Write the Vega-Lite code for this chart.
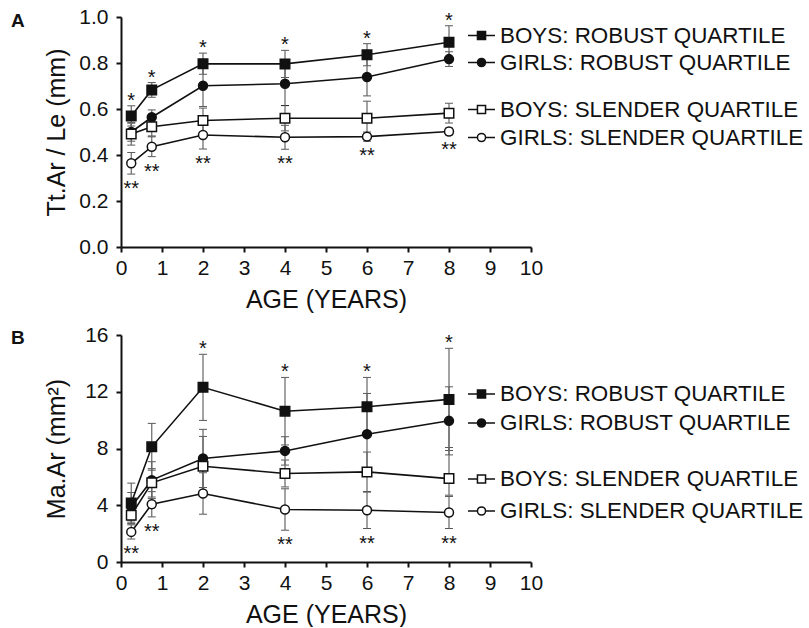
{
  "$schema": "https://vega.github.io/schema/vega-lite/v6.json",
  "background": "white",
  "padding": {"left": 11, "top": 6, "right": 0, "bottom": 0},
  "spacing": 12,
  "config": {
    "view": {"stroke": null},
    "font": "Liberation Sans",
    "axis": {
      "grid": false,
      "domainColor": "#111",
      "domainWidth": 2,
      "tickColor": "#111",
      "tickWidth": 2,
      "tickSize": 5,
      "labelFont": "Liberation Sans",
      "labelFontSize": 21,
      "labelColor": "#111",
      "titleFont": "Liberation Sans",
      "titleFontSize": 25,
      "titleFontWeight": "normal",
      "titleColor": "#111"
    },
    "axisX": {"labelPadding": 5, "titlePadding": 9, "labelFlush": false},
    "axisY": {"minExtent": 40, "maxExtent": 40, "titlePadding": 12, "labelPadding": 8},
    "legend": {
      "padding": 0,
      "labelFont": "Liberation Sans",
      "labelFontSize": 22.4,
      "labelColor": "#111",
      "labelOffset": 4,
      "symbolSize": 729,
      "symbolStrokeColor": "#111",
      "symbolStrokeWidth": 1.5,
      "symbolOpacity": 1,
      "labelLimit": 400
    },
    "title": {"font": "Liberation Sans", "fontSize": 19, "fontWeight": "bold", "color": "#111", "anchor": "start", "frame": "group"}
  },
  "datasets": {
    "A": [
      {"series": "BOYS: ROBUST QUARTILE", "age": 0.25, "mean": 0.570, "lo": 0.526, "hi": 0.614, "sig": "*"},
      {"series": "BOYS: ROBUST QUARTILE", "age": 0.75, "mean": 0.683, "lo": 0.651, "hi": 0.715, "sig": "*"},
      {"series": "BOYS: ROBUST QUARTILE", "age": 2, "mean": 0.797, "lo": 0.751, "hi": 0.843, "sig": "*"},
      {"series": "BOYS: ROBUST QUARTILE", "age": 4, "mean": 0.796, "lo": 0.737, "hi": 0.855, "sig": "*"},
      {"series": "BOYS: ROBUST QUARTILE", "age": 6, "mean": 0.836, "lo": 0.788, "hi": 0.884, "sig": "*"},
      {"series": "BOYS: ROBUST QUARTILE", "age": 8, "mean": 0.890, "lo": 0.818, "hi": 0.962, "sig": "*"},
      {"series": "GIRLS: ROBUST QUARTILE", "age": 0.25, "mean": 0.500, "lo": 0.460, "hi": 0.540, "sig": ""},
      {"series": "GIRLS: ROBUST QUARTILE", "age": 0.75, "mean": 0.564, "lo": 0.532, "hi": 0.596, "sig": ""},
      {"series": "GIRLS: ROBUST QUARTILE", "age": 2, "mean": 0.701, "lo": 0.611, "hi": 0.791, "sig": ""},
      {"series": "GIRLS: ROBUST QUARTILE", "age": 4, "mean": 0.710, "lo": 0.615, "hi": 0.805, "sig": ""},
      {"series": "GIRLS: ROBUST QUARTILE", "age": 6, "mean": 0.739, "lo": 0.657, "hi": 0.821, "sig": ""},
      {"series": "GIRLS: ROBUST QUARTILE", "age": 8, "mean": 0.817, "lo": 0.785, "hi": 0.849, "sig": ""},
      {"series": "BOYS: SLENDER QUARTILE", "age": 0.25, "mean": 0.491, "lo": 0.443, "hi": 0.539, "sig": ""},
      {"series": "BOYS: SLENDER QUARTILE", "age": 0.75, "mean": 0.523, "lo": 0.483, "hi": 0.563, "sig": ""},
      {"series": "BOYS: SLENDER QUARTILE", "age": 2, "mean": 0.550, "lo": 0.496, "hi": 0.604, "sig": ""},
      {"series": "BOYS: SLENDER QUARTILE", "age": 4, "mean": 0.560, "lo": 0.505, "hi": 0.615, "sig": ""},
      {"series": "BOYS: SLENDER QUARTILE", "age": 6, "mean": 0.560, "lo": 0.486, "hi": 0.634, "sig": ""},
      {"series": "BOYS: SLENDER QUARTILE", "age": 8, "mean": 0.582, "lo": 0.539, "hi": 0.625, "sig": ""},
      {"series": "GIRLS: SLENDER QUARTILE", "age": 0.25, "mean": 0.364, "lo": 0.317, "hi": 0.411, "sig": "**"},
      {"series": "GIRLS: SLENDER QUARTILE", "age": 0.75, "mean": 0.436, "lo": 0.393, "hi": 0.479, "sig": "**"},
      {"series": "GIRLS: SLENDER QUARTILE", "age": 2, "mean": 0.487, "lo": 0.426, "hi": 0.548, "sig": "**"},
      {"series": "GIRLS: SLENDER QUARTILE", "age": 4, "mean": 0.477, "lo": 0.425, "hi": 0.529, "sig": "**"},
      {"series": "GIRLS: SLENDER QUARTILE", "age": 6, "mean": 0.480, "lo": 0.460, "hi": 0.500, "sig": "**"},
      {"series": "GIRLS: SLENDER QUARTILE", "age": 8, "mean": 0.502, "lo": 0.487, "hi": 0.517, "sig": "**"}
    ],
    "B": [
      {"series": "BOYS: ROBUST QUARTILE", "age": 0.25, "mean": 4.16, "lo": 2.76, "hi": 5.56, "sig": ""},
      {"series": "BOYS: ROBUST QUARTILE", "age": 0.75, "mean": 8.12, "lo": 6.47, "hi": 9.77, "sig": ""},
      {"series": "BOYS: ROBUST QUARTILE", "age": 2, "mean": 12.31, "lo": 9.98, "hi": 14.64, "sig": "*"},
      {"series": "BOYS: ROBUST QUARTILE", "age": 4, "mean": 10.63, "lo": 8.25, "hi": 13.01, "sig": "*"},
      {"series": "BOYS: ROBUST QUARTILE", "age": 6, "mean": 10.94, "lo": 8.87, "hi": 13.01, "sig": "*"},
      {"series": "BOYS: ROBUST QUARTILE", "age": 8, "mean": 11.46, "lo": 7.86, "hi": 15.06, "sig": "*"},
      {"series": "GIRLS: ROBUST QUARTILE", "age": 0.25, "mean": 3.90, "lo": 2.90, "hi": 4.90, "sig": ""},
      {"series": "GIRLS: ROBUST QUARTILE", "age": 0.75, "mean": 5.77, "lo": 4.47, "hi": 7.07, "sig": ""},
      {"series": "GIRLS: ROBUST QUARTILE", "age": 2, "mean": 7.30, "lo": 5.25, "hi": 9.35, "sig": ""},
      {"series": "GIRLS: ROBUST QUARTILE", "age": 4, "mean": 7.83, "lo": 6.83, "hi": 8.83, "sig": ""},
      {"series": "GIRLS: ROBUST QUARTILE", "age": 6, "mean": 9.01, "lo": 6.14, "hi": 11.88, "sig": ""},
      {"series": "GIRLS: ROBUST QUARTILE", "age": 8, "mean": 9.95, "lo": 7.55, "hi": 12.35, "sig": ""},
      {"series": "BOYS: SLENDER QUARTILE", "age": 0.25, "mean": 3.30, "lo": 2.70, "hi": 3.90, "sig": ""},
      {"series": "BOYS: SLENDER QUARTILE", "age": 0.75, "mean": 5.58, "lo": 4.58, "hi": 6.58, "sig": ""},
      {"series": "BOYS: SLENDER QUARTILE", "age": 2, "mean": 6.75, "lo": 4.65, "hi": 8.85, "sig": ""},
      {"series": "BOYS: SLENDER QUARTILE", "age": 4, "mean": 6.24, "lo": 5.29, "hi": 7.19, "sig": ""},
      {"series": "BOYS: SLENDER QUARTILE", "age": 6, "mean": 6.35, "lo": 4.95, "hi": 7.75, "sig": ""},
      {"series": "BOYS: SLENDER QUARTILE", "age": 8, "mean": 5.88, "lo": 4.71, "hi": 8.07, "sig": ""},
      {"series": "GIRLS: SLENDER QUARTILE", "age": 0.25, "mean": 2.12, "lo": 1.62, "hi": 2.62, "sig": "**"},
      {"series": "GIRLS: SLENDER QUARTILE", "age": 0.75, "mean": 4.07, "lo": 3.18, "hi": 4.96, "sig": "**"},
      {"series": "GIRLS: SLENDER QUARTILE", "age": 2, "mean": 4.83, "lo": 3.37, "hi": 6.29, "sig": ""},
      {"series": "GIRLS: SLENDER QUARTILE", "age": 4, "mean": 3.70, "lo": 2.24, "hi": 5.16, "sig": "**"},
      {"series": "GIRLS: SLENDER QUARTILE", "age": 6, "mean": 3.65, "lo": 2.36, "hi": 4.94, "sig": "**"},
      {"series": "GIRLS: SLENDER QUARTILE", "age": 8, "mean": 3.49, "lo": 2.36, "hi": 4.62, "sig": "**"}
    ]
  },
  "vconcat": [
    {
      "title": {"text": "A", "dx": -110, "dy": 29},
      "width": 410,
      "height": 230,
      "data": {"name": "A"},
      "layer": [
        {
          "mark": {"type": "errorbar", "ticks": {"size": 8, "color": "#111", "strokeWidth": 1.2}, "rule": {"color": "#666", "strokeWidth": 1.2}},
          "encoding": {
            "x": {"field": "age", "type": "quantitative", "title": "AGE (YEARS)", "scale": {"domain": [0, 10], "nice": false}, "axis": {"values": [0,1,2,3,4,5,6,7,8,9,10]}},
            "y": {"field": "lo", "type": "quantitative", "title": "Tt.Ar / Le (mm)", "scale": {"domain": [0, 1], "nice": false}, "axis": {"values": [0,0.2,0.4,0.6,0.8,1], "format": ".1f"}},
            "y2": {"field": "hi"}
          }
        },
        {
          "mark": {"type": "line", "color": "#111", "strokeWidth": 1.6},
          "encoding": {
            "x": {"field": "age", "type": "quantitative", "title": "AGE (YEARS)"},
            "y": {"field": "mean", "type": "quantitative", "title": "Tt.Ar / Le (mm)"},
            "detail": {"field": "series"}
          }
        },
        {
          "transform": [{"filter": "datum.series == 'BOYS: ROBUST QUARTILE'"}],
          "mark": {"type": "point", "shape": "square", "filled": true, "size": 90, "stroke": "#111", "strokeWidth": 1.5, "opacity": 1},
          "encoding": {
            "x": {"field": "age", "type": "quantitative", "title": "AGE (YEARS)"},
            "y": {"field": "mean", "type": "quantitative", "title": "Tt.Ar / Le (mm)"},
            "fill": {"field": "series", "type": "nominal", "scale": {"range": ["#111"]}, "legend": {"orient": "none", "legendX": 346, "legendY": 4, "title": null, "symbolType": "M-1,0H1M-0.3,-0.3H0.3V0.3H-0.3Z"}}
          }
        },
        {
          "transform": [{"filter": "datum.series == 'GIRLS: ROBUST QUARTILE'"}],
          "mark": {"type": "point", "shape": "circle", "filled": true, "size": 80, "stroke": "#111", "strokeWidth": 1.5, "opacity": 1},
          "encoding": {
            "x": {"field": "age", "type": "quantitative", "title": "AGE (YEARS)"},
            "y": {"field": "mean", "type": "quantitative", "title": "Tt.Ar / Le (mm)"},
            "fill": {"field": "series", "type": "nominal", "scale": {"range": ["#111"]}, "legend": {"orient": "none", "legendX": 346, "legendY": 31, "title": null, "symbolType": "M-1,0H1M0.3,0A0.3,0.3,0,1,1,-0.3,0A0.3,0.3,0,1,1,0.3,0Z"}}
          }
        },
        {
          "transform": [{"filter": "datum.series == 'BOYS: SLENDER QUARTILE'"}],
          "mark": {"type": "point", "shape": "square", "filled": true, "size": 90, "stroke": "#111", "strokeWidth": 1.5, "opacity": 1},
          "encoding": {
            "x": {"field": "age", "type": "quantitative", "title": "AGE (YEARS)"},
            "y": {"field": "mean", "type": "quantitative", "title": "Tt.Ar / Le (mm)"},
            "fill": {"field": "series", "type": "nominal", "scale": {"range": ["white"]}, "legend": {"orient": "none", "legendX": 346, "legendY": 78, "title": null, "symbolType": "M-1,0H-0.3M0.3,0H1M-0.3,-0.3H0.3V0.3H-0.3Z"}}
          }
        },
        {
          "transform": [{"filter": "datum.series == 'GIRLS: SLENDER QUARTILE'"}],
          "mark": {"type": "point", "shape": "circle", "filled": true, "size": 80, "stroke": "#111", "strokeWidth": 1.5, "opacity": 1},
          "encoding": {
            "x": {"field": "age", "type": "quantitative", "title": "AGE (YEARS)"},
            "y": {"field": "mean", "type": "quantitative", "title": "Tt.Ar / Le (mm)"},
            "fill": {"field": "series", "type": "nominal", "scale": {"range": ["white"]}, "legend": {"orient": "none", "legendX": 346, "legendY": 106, "title": null, "symbolType": "M-1,0H-0.3M0.3,0H1M0.3,0A0.3,0.3,0,1,1,-0.3,0A0.3,0.3,0,1,1,0.3,0Z"}}
          }
        },
        {
          "transform": [{"filter": "datum.sig == '*'"}],
          "mark": {"type": "text", "fontSize": 20, "baseline": "alphabetic", "dy": 1, "color": "#111"},
          "encoding": {
            "x": {"field": "age", "type": "quantitative", "title": "AGE (YEARS)"},
            "y": {"field": "hi", "type": "quantitative", "title": "Tt.Ar / Le (mm)"},
            "text": {"field": "sig"}
          }
        },
        {
          "transform": [{"filter": "datum.sig == '**'"}],
          "mark": {"type": "text", "fontSize": 20, "baseline": "alphabetic", "dy": 21, "color": "#111"},
          "encoding": {
            "x": {"field": "age", "type": "quantitative", "title": "AGE (YEARS)"},
            "y": {"field": "lo", "type": "quantitative", "title": "Tt.Ar / Le (mm)"},
            "text": {"field": "sig"}
          }
        }
      ],
      "resolve": {"scale": {"fill": "independent"}, "legend": {"fill": "independent"}}
    },
    {
      "title": {"text": "B", "dx": -110, "dy": 28},
      "width": 410,
      "height": 227,
      "data": {"name": "B"},
      "layer": [
        {
          "mark": {"type": "errorbar", "ticks": {"size": 8, "color": "#111", "strokeWidth": 1.2}, "rule": {"color": "#666", "strokeWidth": 1.2}},
          "encoding": {
            "x": {"field": "age", "type": "quantitative", "title": "AGE (YEARS)", "scale": {"domain": [0, 10], "nice": false}, "axis": {"values": [0,1,2,3,4,5,6,7,8,9,10]}},
            "y": {"field": "lo", "type": "quantitative", "title": "Ma.Ar (mm²)", "scale": {"domain": [0, 16], "nice": false}, "axis": {"values": [0,4,8,12,16]}},
            "y2": {"field": "hi"}
          }
        },
        {
          "mark": {"type": "line", "color": "#111", "strokeWidth": 1.6},
          "encoding": {
            "x": {"field": "age", "type": "quantitative", "title": "AGE (YEARS)"},
            "y": {"field": "mean", "type": "quantitative", "title": "Ma.Ar (mm²)"},
            "detail": {"field": "series"}
          }
        },
        {
          "transform": [{"filter": "datum.series == 'BOYS: ROBUST QUARTILE'"}],
          "mark": {"type": "point", "shape": "square", "filled": true, "size": 90, "stroke": "#111", "strokeWidth": 1.5, "opacity": 1},
          "encoding": {
            "x": {"field": "age", "type": "quantitative", "title": "AGE (YEARS)"},
            "y": {"field": "mean", "type": "quantitative", "title": "Ma.Ar (mm²)"},
            "fill": {"field": "series", "type": "nominal", "scale": {"range": ["#111"]}, "legend": {"orient": "none", "legendX": 346, "legendY": 44.5, "title": null, "symbolType": "M-1,0H1M-0.3,-0.3H0.3V0.3H-0.3Z"}}
          }
        },
        {
          "transform": [{"filter": "datum.series == 'GIRLS: ROBUST QUARTILE'"}],
          "mark": {"type": "point", "shape": "circle", "filled": true, "size": 80, "stroke": "#111", "strokeWidth": 1.5, "opacity": 1},
          "encoding": {
            "x": {"field": "age", "type": "quantitative", "title": "AGE (YEARS)"},
            "y": {"field": "mean", "type": "quantitative", "title": "Ma.Ar (mm²)"},
            "fill": {"field": "series", "type": "nominal", "scale": {"range": ["#111"]}, "legend": {"orient": "none", "legendX": 346, "legendY": 73.5, "title": null, "symbolType": "M-1,0H1M0.3,0A0.3,0.3,0,1,1,-0.3,0A0.3,0.3,0,1,1,0.3,0Z"}}
          }
        },
        {
          "transform": [{"filter": "datum.series == 'BOYS: SLENDER QUARTILE'"}],
          "mark": {"type": "point", "shape": "square", "filled": true, "size": 90, "stroke": "#111", "strokeWidth": 1.5, "opacity": 1},
          "encoding": {
            "x": {"field": "age", "type": "quantitative", "title": "AGE (YEARS)"},
            "y": {"field": "mean", "type": "quantitative", "title": "Ma.Ar (mm²)"},
            "fill": {"field": "series", "type": "nominal", "scale": {"range": ["white"]}, "legend": {"orient": "none", "legendX": 346, "legendY": 129.5, "title": null, "symbolType": "M-1,0H-0.3M0.3,0H1M-0.3,-0.3H0.3V0.3H-0.3Z"}}
          }
        },
        {
          "transform": [{"filter": "datum.series == 'GIRLS: SLENDER QUARTILE'"}],
          "mark": {"type": "point", "shape": "circle", "filled": true, "size": 80, "stroke": "#111", "strokeWidth": 1.5, "opacity": 1},
          "encoding": {
            "x": {"field": "age", "type": "quantitative", "title": "AGE (YEARS)"},
            "y": {"field": "mean", "type": "quantitative", "title": "Ma.Ar (mm²)"},
            "fill": {"field": "series", "type": "nominal", "scale": {"range": ["white"]}, "legend": {"orient": "none", "legendX": 346, "legendY": 161.5, "title": null, "symbolType": "M-1,0H-0.3M0.3,0H1M0.3,0A0.3,0.3,0,1,1,-0.3,0A0.3,0.3,0,1,1,0.3,0Z"}}
          }
        },
        {
          "transform": [{"filter": "datum.sig == '*'"}],
          "mark": {"type": "text", "fontSize": 20, "baseline": "alphabetic", "dy": 1, "color": "#111"},
          "encoding": {
            "x": {"field": "age", "type": "quantitative", "title": "AGE (YEARS)"},
            "y": {"field": "hi", "type": "quantitative", "title": "Ma.Ar (mm²)"},
            "text": {"field": "sig"}
          }
        },
        {
          "transform": [{"filter": "datum.sig == '**'"}],
          "mark": {"type": "text", "fontSize": 20, "baseline": "alphabetic", "dy": 21, "color": "#111"},
          "encoding": {
            "x": {"field": "age", "type": "quantitative", "title": "AGE (YEARS)"},
            "y": {"field": "lo", "type": "quantitative", "title": "Ma.Ar (mm²)"},
            "text": {"field": "sig"}
          }
        }
      ],
      "resolve": {"scale": {"fill": "independent"}, "legend": {"fill": "independent"}}
    }
  ]
}
